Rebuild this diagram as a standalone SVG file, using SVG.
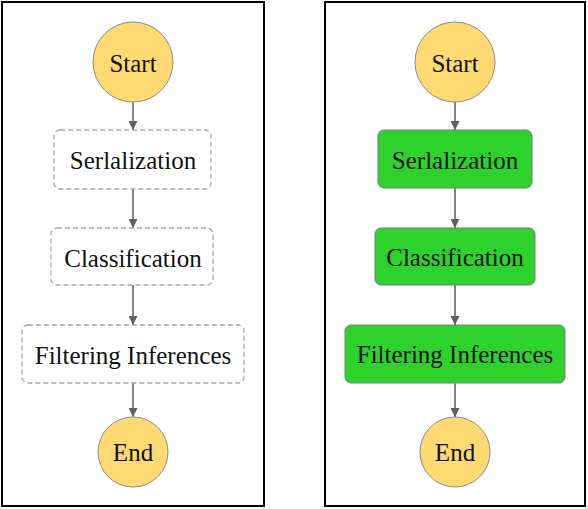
<svg xmlns="http://www.w3.org/2000/svg" width="588" height="509" viewBox="0 0 588 509">
<style>
.panel{fill:#fff;stroke:#000;stroke-width:2}
.term{fill:#ffd972;stroke:#8a8a8a;stroke-width:1}
.idle{fill:#fff;stroke:#a8a8a8;stroke-width:1.3;stroke-dasharray:5 3}
.ok{fill:#2dd22d;stroke:#7a7a7a;stroke-width:1}
.lbl{font-family:"Liberation Serif","Times New Roman",serif;font-size:25px;fill:#111;text-anchor:middle;dominant-baseline:central}
.edge{stroke:#666;stroke-width:1.6;fill:none;marker-end:url(#ah)}
</style>
<defs>
<marker id="ah" viewBox="0 0 10 10" refX="10" refY="5" markerWidth="10" markerHeight="9" markerUnits="userSpaceOnUse" orient="auto">
<path d="M0,0 L10,5 L0,10 z" fill="#606060"/>
</marker>
</defs>
<rect class="panel" x="2" y="2" width="262" height="504"/>
<rect class="panel" x="325" y="2" width="260" height="504"/>
<g id="connectors">
<line class="edge" x1="133" y1="102" x2="133" y2="130"/>
<line class="edge" x1="133" y1="189" x2="133" y2="228"/>
<line class="edge" x1="133" y1="285" x2="133" y2="325"/>
<line class="edge" x1="133" y1="383" x2="133" y2="417"/>
<line class="edge" x1="455" y1="102" x2="455" y2="130"/>
<line class="edge" x1="455" y1="188" x2="455" y2="228"/>
<line class="edge" x1="455" y1="285" x2="455" y2="325"/>
<line class="edge" x1="455" y1="383" x2="455" y2="417"/>
</g>
<g id="l-start"><circle class="term" cx="133" cy="62" r="40"/><text class="lbl" x="133" y="63">Start</text></g>
<g id="l-ser"><rect class="idle" x="54" y="130" width="157" height="59" rx="6"/><text class="lbl" x="133" y="160">Serlalization</text></g>
<g id="l-cls"><rect class="idle" x="51" y="228" width="162" height="57" rx="6"/><text class="lbl" x="133" y="258">Classification</text></g>
<g id="l-fil"><rect class="idle" x="22" y="325" width="222" height="58" rx="6"/><text class="lbl" x="133" y="355">Filtering Inferences</text></g>
<g id="l-end"><circle class="term" cx="133" cy="452" r="35"/><text class="lbl" x="133" y="452">End</text></g>
<g id="r-start"><circle class="term" cx="455" cy="62" r="40"/><text class="lbl" x="455" y="63">Start</text></g>
<g id="r-ser"><rect class="ok" x="378" y="130" width="154" height="58" rx="6"/><text class="lbl" x="455" y="160">Serlalization</text></g>
<g id="r-cls"><rect class="ok" x="375" y="228" width="160" height="57" rx="6"/><text class="lbl" x="455" y="257">Classification</text></g>
<g id="r-fil"><rect class="ok" x="345" y="325" width="220" height="58" rx="6"/><text class="lbl" x="455" y="354">Filtering Inferences</text></g>
<g id="r-end"><circle class="term" cx="455" cy="452" r="35"/><text class="lbl" x="455" y="452">End</text></g>
</svg>
